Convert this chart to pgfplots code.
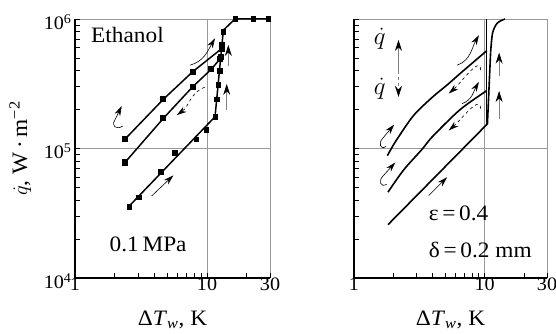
\documentclass[border=0pt]{standalone}
\usepackage{fontspec}
\setmainfont{Liberation Serif}[FakeStretch=1.06]
\usepackage{pgfplots}
\pgfplotsset{compat=1.18}
\usetikzlibrary{arrows.meta}
\newcommand{\bigf}{\fontsize{22}{26}\selectfont}
\newcommand{\tickf}{\fontsize{19}{23}\selectfont}
\pgfplotsset{
  panel/.style={
    scale only axis, width=195pt, height=259pt,
    xmin=1, xmax=30, ymin=1e4, ymax=1e6,
    xtick={1,10,30}, xticklabels={1,10,30},
    minor xtick={2,3,4,5,6,7,8,9,20},
    ytick={1e4,1e5,1e6},
    minor ytick={2e4,3e4,4e4,5e4,6e4,7e4,8e4,9e4,2e5,3e5,4e5,5e5,6e5,7e5,8e5,9e5},
    grid=major, major grid style={gray!80, line width=0.6pt},
    axis x line*=bottom, axis y line*=left,
    axis line style={black, line width=1.2pt, -},
    tick align=inside, major tick length=5pt, minor tick length=5pt,
    tick style={black, line width=0.7pt},
    tick label style={font=\tickf},
    label style={font=\bigf},
    xticklabel style={yshift=4pt},
    yticklabel style={yshift=-3pt},
    clip=false,
  },
  dat/.style={black, line width=1.5pt, mark=square*, mark size=2.3pt, mark options={solid}},
  ln/.style={black, line width=1.5pt, no marks},
  mk/.style={black, only marks, mark=square*, mark size=2.3pt},
  crv/.style={black, line width=1.6pt, no marks},
}
\tikzset{
  ann/.style={black, line width=0.6pt, -{Stealth[length=10pt,width=6pt]}},
  vann/.style={gray, line width=0.7pt, -{Stealth[length=11pt,width=7pt,color=black]}},
}
\begin{document}
\begin{tikzpicture}[font=\bigf]
\path[use as bounding box] (-75pt,-56pt) rectangle (481pt,278pt);
% ---------- left panel ----------
\begin{loglogaxis}[panel, at={(0pt,0pt)}, anchor=south west,
  yticklabels={10\textsuperscript{4},10\textsuperscript{5},10\textsuperscript{6}},
  xlabel={Δ\textit{T}\textsubscript{\textit{w}}, K},
  xlabel style={at={(axis description cs:0.5,0)}, anchor=center, yshift=-42pt},
  ylabel={\(\dot{q}\), W\,·\,m\textsuperscript{−2}},
  ylabel style={at={(axis description cs:-0.28,0.5)}, anchor=center},
]
\addplot[dat] coordinates {(2.39,1.18e5) (4.67,2.4e5) (7.8,3.92e5) (12.9,5.9e5)};
\addplot[dat] coordinates {(2.39,7.8e4) (4.67,1.71e5) (7.8,3.0e5) (10.8,4.1e5) (12.5,4.9e5)};
\addplot[ln] coordinates {(2.58,3.6e4) (11.5,1.76e5) (13.3,8.2e5) (16.3,1e6) (29.1,1e6)};
\addplot[mk] coordinates {(2.58,3.55e4) (3.05,4.2e4) (4.45,6.6e4) (5.72,9.3e4) (8.26,1.18e5) (9.83,1.40e5) (11.5,1.76e5)
  (11.84,2.4e5) (12.13,3.1e5) (12.43,4.0e5) (12.72,5.1e5) (12.97,6.3e5) (13.28,8.0e5) (16.3,1e6) (22.4,1e6) (29.1,1e6)};
\node[anchor=west] at (rel axis cs:0.065,0.938) {Ethanol};
\node[anchor=west] at (rel axis cs:0.16,0.131) {0.1\,MPa};
% annotations
\draw[ann] (axis cs:2.3,1.49e5) .. controls (axis cs:2.05,1.38e5) and (axis cs:1.88,1.5e5) .. (axis cs:2.0,1.65e5) -- (axis cs:2.26,2.13e5);
\draw[ann] (axis cs:7.44,4.4e5) to[out=15,in=240] (axis cs:11.5,7.1e5);
\draw[ann, dashed] (axis cs:9.6,2.97e5) to[out=200,in=35] (axis cs:5.9,1.81e5);
\draw[vann] (axis cs:14.5,4.3e5) -- (axis cs:14.5,6.3e5);
\draw[vann] (axis cs:14.1,2.0e5) -- (axis cs:14.1,3.15e5);
\draw[ann] (axis cs:3.81,4.3e4) -- (axis cs:5.56,6.2e4);
\end{loglogaxis}
% ---------- right panel ----------
\begin{loglogaxis}[panel, at={(279pt,0pt)}, anchor=south west, width=193pt,
  yticklabels={,,},
  xlabel={Δ\textit{T}\textsubscript{\textit{w}}, K},
  xlabel style={at={(axis description cs:0.5,0)}, anchor=center, yshift=-42pt},
]
\addplot[crv, smooth] coordinates {(1.80,8.8e4) (2.1,1.15e5) (2.86,1.8e5) (4.0,2.5e5) (5.17,3.1e5) (6.7,3.9e5) (10.4,5.7e5)};
\addplot[crv, smooth] coordinates {(1.82,4.6e4) (2.39,6.8e4) (3.3,0.98e5) (4.0,1.24e5) (6.5,2.0e5) (10.4,2.8e5)};
\addplot[crv] coordinates {(1.82,2.58e4) (10.5,1.55e5) (11.1,5.5e5)};
\addplot[crv, smooth] coordinates {(11.1,5.5e5) (11.5,7.8e5) (12.5,9.3e5) (14.3,1e6)};
\addplot[crv] coordinates {(10.35,1.55e5) (10.35,1e6)};
\node[font=\fontsize{26}{30}\selectfont] at (axis cs:1.57,7.08e5) {\(\dot{q}\)};
\node[font=\fontsize{26}{30}\selectfont] at (axis cs:1.57,2.9e5) {\(\dot{q}\)};
\draw[vann] (axis cs:2.19,4.0e5) -- (axis cs:2.19,6.9e5);
\draw[vann, dashed] (axis cs:2.19,4.0e5) -- (axis cs:2.19,2.5e5);
\node[anchor=west] at (rel axis cs:0.37,0.248) {ε\,=\,0.4};
\node[anchor=west] at (rel axis cs:0.37,0.109) {δ\,=\,0.2 mm};
% annotations
\draw[ann] (axis cs:1.76,1.04e5) .. controls (axis cs:1.6,0.96e5) and (axis cs:1.52,1.1e5) .. (axis cs:1.66,1.2e5) -- (axis cs:2.03,1.53e5);
\draw[ann] (axis cs:1.78,5.3e4) .. controls (axis cs:1.6,4.95e4) and (axis cs:1.53,5.6e4) .. (axis cs:1.66,6.1e4) -- (axis cs:2.07,7.8e4);
\draw[ann] (axis cs:6.17,4.4e5) to[out=20,in=240] (axis cs:9.04,7.5e5);
\draw[ann] (axis cs:6.73,2.22e5) to[out=20,in=240] (axis cs:9.04,3.27e5);
\draw[ann, dashed] (axis cs:9.31,4.03e5) to[out=90,in=40] (axis cs:5.31,2.66e5);
\draw[ann, dashed] (axis cs:9.31,2.03e5) to[out=90,in=40] (axis cs:5.31,1.38e5);
\draw[vann] (axis cs:12.9,3.6e5) -- (axis cs:12.9,5.5e5);
\draw[vann] (axis cs:12.9,1.7e5) -- (axis cs:12.9,2.78e5);
\draw[ann] (axis cs:3.73,4.33e4) -- (axis cs:5.16,6.0e4);
\end{loglogaxis}
\end{tikzpicture}
\end{document}
